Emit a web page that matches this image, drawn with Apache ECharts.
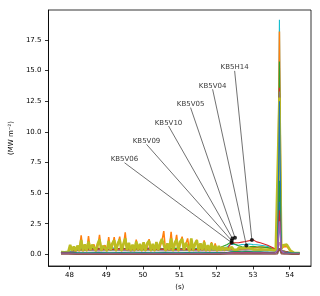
<!DOCTYPE html>
<html><head><meta charset="utf-8">
<script src="https://cdn.jsdelivr.net/npm/echarts@6/dist/echarts.min.js"></script>
<style>html,body{margin:0;padding:0;background:#fff}#c{width:320px;height:296px}</style>
</head><body><div id="c"></div>
<script>
// ---- data ----
const xTicks = [48,49,50,51,52,53,54];
const yTicks = [0,2.5,5,7.5,10,12.5,15,17.5];

const tDense = [
47.77,47.82,47.87,47.92,47.97,48.02,48.07,48.12,48.17,48.22,
48.27,48.32,48.37,48.42,48.47,48.52,48.57,48.62,48.67,48.72,
48.77,48.82,48.87,48.92,48.97,49.02,49.07,49.12,49.17,49.22,
49.27,49.32,49.37,49.42,49.47,49.52,49.57,49.62,49.67,49.72,
49.77,49.82,49.87,49.92,49.97,50.02,50.07,50.12,50.17,50.22,
50.27,50.32,50.37,50.42,50.47,50.52,50.57,50.62,50.67,50.72,
50.77,50.82,50.87,50.92,50.97,51.02,51.07,51.12,51.17,51.22,
51.27,51.32,51.37,51.42,51.47,51.52,51.57,51.62,51.67,51.72,
51.77,51.82,51.87,51.92,51.97,52.02,52.07,52.12,52.17,52.22,
52.27,52.32,52.37,52.42,52.47,52.52,52.57,52.62,52.67,52.72,
52.77,52.82,52.87,52.92,52.97,53.02,53.07,53.12,53.17,53.22,
53.27,53.32,53.37,53.42,53.47,53.52,53.57,53.62,53.67,53.72,
53.77,53.82,53.87,53.92,53.97,54.02,54.07,54.12,54.17,54.22,54.27];

const oliveVals = [
0.18,0.18,0.17,0.19,0.2,0.78,0.3,0.65,0.28,0.72,
0.3,1.18,0.28,0.82,0.3,1.05,0.35,0.8,0.95,0.3,
0.85,1.22,0.32,0.7,0.85,0.3,1.1,0.35,0.9,1.15,
0.3,0.9,1.2,0.3,0.85,1.3,0.35,0.95,0.3,0.8,
0.3,1.05,0.35,0.85,0.3,0.98,0.3,0.9,1.1,0.3,
0.85,0.3,1.0,0.35,0.9,1.25,1.35,0.3,0.9,0.35,
1.3,0.3,0.95,1.2,0.3,1.05,1.25,0.35,0.95,1.1,
0.3,1.3,0.32,0.85,1.15,0.3,0.9,0.35,1.0,0.3,
0.75,0.3,0.9,0.35,0.7,0.3,0.68,0.32,0.6,0.35,
0.55,0.38,0.5,0.6,0.4,0.52,0.38,0.55,0.4,0.5,
0.4,0.55,0.42,0.5,0.58,0.4,0.5,0.4,0.55,0.42,
0.5,0.4,0.5,0.38,0.48,0.35,0.45,0.3,0.3,12.8,
0.45,0.75,0.68,0.8,0.7,0.3,0.15,0.12,0.12,0.1,0.1];

const orangeVals = [
0.15,0.16,0.15,0.16,0.17,0.6,0.25,0.5,0.22,0.65,
0.25,1.55,0.25,0.7,0.25,1.5,0.3,0.6,0.8,0.25,
0.55,1.6,0.28,0.5,0.75,0.25,1.4,0.3,0.65,1.4,
0.25,0.8,1.45,0.25,0.6,1.8,0.3,0.85,0.25,0.7,
0.25,1.2,0.3,0.7,0.25,0.85,0.25,0.6,1.25,0.25,
0.75,0.25,0.9,0.3,0.6,1.1,1.9,0.25,0.8,0.3,
1.85,0.25,0.7,1.6,0.25,0.95,1.45,0.3,0.85,1.3,
0.25,1.2,0.28,0.75,1.2,0.25,0.8,0.3,1.15,0.25,
0.65,0.25,1.0,0.3,0.9,0.25,0.6,0.3,0.55,0.3,
0.5,0.35,0.45,0.55,0.38,0.5,0.35,0.5,0.4,0.48,
0.45,0.55,0.5,0.55,0.6,0.5,0.55,0.5,0.6,0.55,
0.6,0.65,0.55,0.6,0.5,0.55,0.45,0.5,0.35,18.2,
0.4,0.6,0.55,0.65,0.55,0.25,0.12,0.1,0.1,0.1,0.1];

const tSparse = [47.77,47.97,48.2,48.5,48.8,49.1,49.4,49.7,50.0,50.3,50.6,50.9,51.2,51.5,51.8,52.1,
52.3,52.4,52.5,52.6,52.7,52.8,52.9,53.0,53.1,53.2,53.3,53.4,53.5,53.6,
53.67,53.72,53.77,53.85,53.95,54.05,54.15,54.27];

const cyanVals = [0.18,0.2,0.45,0.5,0.4,0.55,0.45,0.5,0.4,0.55,0.45,0.5,0.45,0.5,0.4,0.45,
0.6,0.85,0.8,0.75,0.8,0.82,0.85,0.8,0.78,0.75,0.7,0.65,0.55,0.4,
0.35,19.15,0.3,0.25,0.2,0.12,0.1,0.1];
const pinkVals = [0.12,0.12,0.3,0.35,0.3,0.4,0.35,0.3,0.7,0.4,0.35,0.3,0.35,0.3,0.3,0.3,
0.3,0.35,0.4,0.4,0.38,0.4,0.42,0.45,0.4,0.4,0.38,0.35,0.3,0.3,
0.35,1.0,0.3,0.2,0.15,0.1,0.08,0.08];
const greenVals = [0.15,0.16,0.4,0.45,0.5,0.4,0.5,0.45,0.5,0.4,0.45,0.5,0.4,0.45,0.5,0.55,
0.8,1.0,0.85,0.7,0.62,0.6,0.62,0.65,0.62,0.6,0.58,0.55,0.45,0.35,
0.3,15.75,0.3,0.28,0.2,0.12,0.1,0.1];
const redVals = [0.14,0.15,0.35,0.4,0.45,0.4,0.45,0.4,0.45,0.4,0.45,0.4,0.45,0.4,0.45,0.5,
0.45,0.9,0.95,0.95,1.0,1.05,1.12,1.2,1.02,0.95,0.85,0.75,0.6,0.45,
0.35,13.6,0.3,0.25,0.18,0.1,0.08,0.08];
const grayVals = [0.2,0.2,0.3,0.3,0.28,0.3,0.3,0.28,0.3,0.3,0.28,0.3,0.3,0.28,0.3,0.3,
0.32,0.35,0.35,0.36,0.36,0.35,0.36,0.36,0.35,0.35,0.34,0.33,0.3,0.3,
0.3,13.3,0.25,0.2,0.15,0.1,0.1,0.1];
const blueVals = [0.16,0.16,0.14,0.13,0.14,0.13,0.14,0.13,0.14,0.13,0.14,0.13,0.14,0.13,0.14,0.14,
0.15,0.2,0.22,0.22,0.2,0.22,0.22,0.2,0.2,0.2,0.18,0.18,0.16,0.16,
0.2,12.5,0.2,0.15,0.12,0.1,0.1,0.1];
const green2Vals = [0.14,0.14,0.11,0.1,0.11,0.1,0.11,0.1,0.11,0.1,0.11,0.1,0.11,0.1,0.11,0.12,
0.14,0.18,0.2,0.2,0.19,0.2,0.2,0.19,0.18,0.18,0.17,0.16,0.15,0.15,
0.2,6.0,0.18,0.14,0.11,0.09,0.09,0.09];
const blue2Vals = [0.12,0.12,0.09,0.08,0.09,0.08,0.09,0.08,0.09,0.08,0.09,0.08,0.09,0.08,0.09,0.1,
0.12,0.15,0.16,0.16,0.15,0.16,0.16,0.15,0.15,0.14,0.14,0.13,0.12,0.12,
0.18,4.3,0.16,0.12,0.1,0.08,0.08,0.08];
const red2Vals = [0.1,0.1,0.07,0.06,0.07,0.06,0.07,0.06,0.07,0.06,0.07,0.06,0.07,0.06,0.07,0.08,
0.1,0.13,0.14,0.14,0.13,0.14,0.14,0.13,0.13,0.12,0.12,0.11,0.1,0.1,
0.25,3.6,0.15,0.1,0.08,0.07,0.07,0.07];
const purpleVals = [0.07,0.07,0.05,0.05,0.06,0.05,0.06,0.05,0.06,0.05,0.06,0.05,0.06,0.05,0.06,0.06,
0.07,0.09,0.1,0.1,0.09,0.1,0.1,0.09,0.09,0.09,0.08,0.08,0.08,0.1,
0.35,2.7,0.3,0.1,0.07,0.06,0.06,0.06];
const brownVals = [0.02,0.02,0.01,0.01,0.01,0.01,0.01,0.01,0.01,0.01,0.01,0.01,0.01,0.01,0.01,0.01,
0.02,0.02,0.03,0.03,0.03,0.03,0.03,0.03,0.03,0.03,0.02,0.02,0.02,0.02,
0.05,0.5,0.05,0.02,0.02,0.01,0.01,0.01];

const annNames = ['KB5H14','KB5V04','KB5V05','KB5V10','KB5V09','KB5V06'];
const annX = [52.5,51.9,51.3,50.7,50.1,49.5];
const annY = [15.25,13.75,12.25,10.75,9.25,7.75];
const dotX = [52.97,52.82,52.51,52.44,52.42,52.42];
const dotY = [1.17,0.73,1.36,1.30,1.12,0.95];

// ---- chart ----
const FONT = 'DejaVu Sans';
function ls(name, xs, ys, color, w){
  return {type:'line', name, data: xs.map((x,i)=>[x, ys[i]]), symbol:'none', showSymbol:false,
    lineStyle:{color, width:w||1.1}, itemStyle:{color}, animation:false, silent:true, sampling:null, z:2};
}
const series = [
  ls('cyan', tSparse, cyanVals, '#17becf'),
  ls('pink', tSparse, pinkVals, '#e377c2'),
  ls('orange', tDense, orangeVals, '#ff7f0e', 1.5),
  ls('green', tSparse, greenVals, '#2ca02c'),
  ls('red', tSparse, redVals, '#d62728'),
  ls('gray', tSparse, grayVals, '#7f7f7f'),
  ls('olive', tDense, oliveVals, '#bcbd22', 2.6),
  ls('blue', tSparse, blueVals, '#1f77b4'),
  ls('green2', tSparse, green2Vals, '#2ca02c'),
  ls('blue2', tSparse, blue2Vals, '#1f77b4'),
  ls('red2', tSparse, red2Vals, '#d62728'),
  ls('purple', tSparse, purpleVals, '#9467bd', 1.4),
  ls('brown', tSparse, brownVals, '#8c564b', 1.4)
];
annNames.forEach((n,i)=>{
  series.push({type:'line', data:[[annX[i], annY[i]-0.27],[dotX[i], dotY[i]]], symbol:'none',
    lineStyle:{color:'#333', width:0.7}, animation:false, silent:true, z:5});
});
series.push({type:'scatter', data: dotX.map((x,i)=>[x, dotY[i]]), symbolSize:4,
  itemStyle:{color:'#000'}, animation:false, silent:true, z:6});
series.push({type:'scatter', data: annX.map((x,i)=>({value:[x, annY[i]], name:annNames[i]})),
  symbolSize:2, itemStyle:{color:'rgba(0,0,0,0)'}, animation:false, silent:true, z:7,
  label:{show:true, position:'inside', formatter:p=>p.name, color:'#000', fontSize:7, fontFamily:FONT}});

const chart = echarts.init(document.getElementById('c'), null, {renderer:'canvas'});
chart.setOption({
  backgroundColor:'#fff',
  animation:false,
  grid:{left:40, right:9, top:10, bottom:29, show:true, borderColor:'#000', borderWidth:0.8},
  xAxis:{type:'value', min:47.43, max:54.58,
    name:'(s)', nameLocation:'middle', nameGap:18, nameTextStyle:{color:'#000', fontSize:7, fontFamily:FONT},
    axisLine:{show:true, onZero:false, lineStyle:{color:'#000', width:0.8}},
    axisTick:{show:true, length:3.5, customValues:xTicks, lineStyle:{color:'#000', width:0.8}},
    axisLabel:{customValues:xTicks, color:'#000', fontSize:7, fontFamily:FONT, margin:6},
    splitLine:{show:false}},
  yAxis:{type:'value', min:-0.95, max:19.95,
    name:'(MW m\u207B\u00B2)', nameLocation:'middle', nameGap:26, nameRotate:90,
    nameTextStyle:{color:'#000', fontSize:7, fontFamily:FONT},
    axisLine:{show:true, onZero:false, lineStyle:{color:'#000', width:0.8}},
    axisTick:{show:true, length:3.5, customValues:yTicks, lineStyle:{color:'#000', width:0.8}},
    axisLabel:{customValues:yTicks, color:'#000', fontSize:7, fontFamily:FONT, margin:7,
      formatter:v=>Number(v).toFixed(1)},
    splitLine:{show:false}},
  series
});
</script></body></html>
